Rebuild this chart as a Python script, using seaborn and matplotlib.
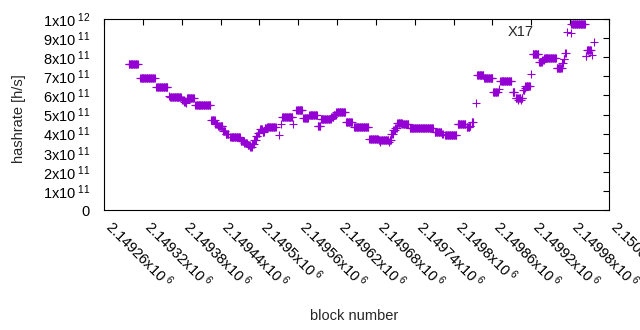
import numpy as np
import pandas as pd
import matplotlib
matplotlib.use('Agg')
import matplotlib.pyplot as plt
import matplotlib.transforms as mtransforms
import seaborn as sns

# block numbers are stored as offsets from the first x tick
BASE_BLOCK = 2149260

# runs of consecutive blocks that share one hashrate estimate (x1e11 h/s)
run_start = [38, 56, 81, 100, 102, 121, 124, 127, 128, 141, 166, 172, 176, 184, 188,
             195, 211, 217, 222, 226, 229, 232, 235, 238, 241, 245, 248, 252, 270, 274,
             275, 292, 297, 308, 317, 330, 335, 351, 355, 359, 374, 386, 410, 424, 426,
             427, 440, 441, 444, 447, 450, 453, 461, 472, 511, 522, 527, 546, 560, 565,
             568, 575, 576, 587, 601, 610, 612, 631, 636, 640, 641, 644, 645, 647, 650,
             651, 660, 662, 672, 677, 680, 699, 708, 710, 712, 721, 722, 744, 746, 753,
             757]
run_end = [52, 78, 98, 100, 119, 123, 126, 127, 139, 164, 171, 175, 183, 187, 192,
           210, 216, 221, 225, 228, 231, 234, 237, 240, 244, 247, 251, 265, 270, 274,
           291, 292, 306, 315, 329, 334, 350, 354, 358, 372, 383, 408, 423, 425, 426,
           439, 440, 443, 446, 449, 452, 460, 470, 508, 521, 523, 544, 558, 564, 566,
           570, 575, 586, 600, 608, 610, 629, 634, 639, 640, 643, 644, 646, 649, 650,
           658, 660, 671, 676, 679, 698, 707, 709, 711, 713, 721, 743, 745, 752, 753,
           757]
run_value = [7.63, 6.92, 6.43, 5.98, 5.92, 5.78, 5.68, 5.58, 5.84, 5.48, 4.71, 4.52, 4.38, 4.15, 4.0,
             3.82, 3.62, 3.52, 3.42, 3.3, 3.45, 3.65, 3.85, 4.05, 4.25, 4.1, 4.3, 4.34, 3.95, 4.5,
             4.85, 4.52, 5.21, 4.8, 4.97, 4.38, 4.78, 4.88, 5.0, 5.12, 4.62, 4.35, 3.74, 3.66, 3.56,
             3.66, 3.58, 3.66, 4.0, 4.2, 4.3, 4.55, 4.48, 4.28, 4.07, 4.0, 3.93, 4.49, 4.35, 4.42,
             4.6, 5.59, 7.08, 6.9, 6.18, 6.35, 6.74, 6.2, 5.88, 5.78, 5.88, 5.78, 5.88, 6.3, 6.4,
             6.48, 7.1, 8.16, 7.75, 7.85, 7.94, 7.42, 7.7, 7.9, 8.2, 9.25, 9.73, 8.08, 8.4, 8.1,
             8.8]

x_ticks = np.arange(2149260, 2150041, 60)
y_ticks = np.arange(0, 11) * 1e11

# one point per block
blocks, rates = [], []
for s, e, v in zip(run_start, run_end, run_value):
    for b in range(s, e + 1):
        blocks.append(BASE_BLOCK + b)
        rates.append(v * 1e11)
df = pd.DataFrame({'block': blocks, 'hashrate': rates})

sns.set_style('white')
plt.rcParams['font.family'] = ['Liberation Sans', 'DejaVu Sans']
plt.rcParams['mathtext.fontset'] = 'custom'
plt.rcParams['mathtext.rm'] = 'Liberation Sans'
plt.rcParams['mathtext.it'] = 'Liberation Sans:italic'
plt.rcParams['mathtext.bf'] = 'Liberation Sans:bold'

fig = plt.figure(figsize=(6.4, 3.3), dpi=100)
ax = fig.add_axes([104 / 640, 120 / 330, 505 / 640, 191 / 330])

sns.scatterplot(data=df, x='block', y='hashrate', marker='+', color='#9400d3',
                s=28, linewidth=0.8, label='X17', ax=ax)

ax.set_xlim(2149260, 2150040)
ax.set_ylim(0, 1e12)
ax.set_xticks(x_ticks)
ax.set_yticks(y_ticks)
ax.set_xticklabels([f'{t / 1e6:g}x10$^{{\\ 6}}$' for t in x_ticks],
                   rotation=-45, ha='left', va='top', rotation_mode='anchor')
ylabels = ['0'] + [f'{k}x10$^{{\\ 11}}$' for k in range(1, 10)] + ['1x10$^{\\ 12}$']
ax.set_yticklabels(ylabels)
ax.tick_params(direction='in', top=True, right=True, length=4.5, width=0.8,
               labelsize=10.5, colors='black')
ax.tick_params(axis='y', pad=10)
ax.tick_params(axis='x', pad=5)
shift = mtransforms.ScaledTranslation(8 / 72, 0, fig.dpi_scale_trans)
for lab in ax.get_xticklabels():
    lab.set_transform(lab.get_transform() + shift)
for sp in ax.spines.values():
    sp.set_color('black')
    sp.set_linewidth(0.8)

ax.set_xlabel('block number', fontsize=10.5)
ax.set_ylabel('hashrate [h/s]', fontsize=10.5)
ax.xaxis.set_label_coords(0.495, -0.52)
ax.yaxis.set_label_coords(-0.155, 0.48)

ax.legend(loc='center right', bbox_to_anchor=(0.9457, 0.932), frameon=False,
          markerfirst=False, fontsize=10.5, borderpad=0, borderaxespad=0,
          handlelength=2, handletextpad=1.3)

plt.savefig('out.png', dpi=100)
